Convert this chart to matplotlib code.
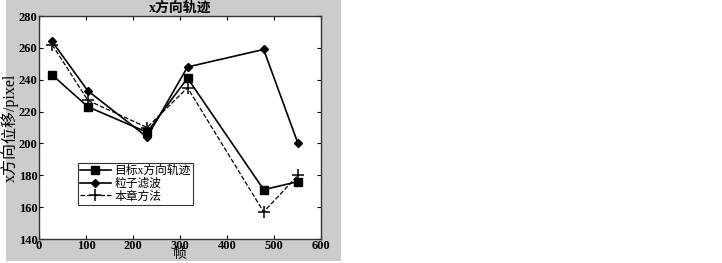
import matplotlib
matplotlib.use("Agg")
import matplotlib.pyplot as plt
from matplotlib.patches import Rectangle

plt.rcParams["font.family"] = ["Liberation Serif", "Noto Sans CJK SC"]

frames = [28, 104, 230, 316, 478, 551]
target_x = [243, 223, 207, 241, 171, 176]
particle_x = [264, 233, 204, 248, 259, 200]
ours_x = [262, 227, 210, 235, 157, 180]

labels = ["目标x方向轨迹", "粒子滤波", "本章方法"]

fig = plt.figure(figsize=(7.22, 2.63), dpi=100)
fig.patch.set_facecolor("white")
# gray panel behind the plot (MATLAB-style figure background)
fig.patches.append(Rectangle((6 / 722, 2 / 263), 335 / 722, 261 / 263,
                             transform=fig.transFigure, facecolor="#cccccc",
                             edgecolor="none", zorder=-10))

ax = fig.add_axes([39 / 722, 24 / 263, 282 / 722, 223 / 263])
ax.set_zorder(5)
ax.set_facecolor("white")

ax.plot(frames, target_x, "k-", marker="s", markersize=5.5, lw=1.2, label=labels[0])
ax.plot(frames, particle_x, "k-", marker="D", markersize=4, lw=1.2, label=labels[1])
ax.plot(frames, ours_x, "k--", marker="+", markersize=8, mew=1.1, lw=0.9, label=labels[2])

ax.set_xlim(0, 600)
ax.set_ylim(140, 280)
ax.set_xticks(range(0, 601, 100))
ax.set_yticks(range(140, 281, 20))
ax.tick_params(direction="in", top=True, right=True, length=3, labelsize=9, pad=1)
for lbl in ax.get_xticklabels() + ax.get_yticklabels():
    lbl.set_fontweight("bold")
for s in ax.spines.values():
    s.set_linewidth(1.0)
    s.set_color("#333333")

ax.set_title("x方向轨迹", fontsize=10, pad=3, fontweight="bold")
ax.set_xlabel("帧", fontsize=10, labelpad=-3)
ax.set_ylabel("x方向位移/pixel", fontsize=11.5, labelpad=0)

leg = ax.legend(loc="upper left", bbox_to_anchor=(0.137, 0.341), fontsize=8.5,
                frameon=True, fancybox=False, edgecolor="black",
                borderpad=0.2, labelspacing=0.05, handlelength=2.6,
                handletextpad=0.3, borderaxespad=0)
leg.get_frame().set_linewidth(0.8)

fig.savefig("out.png", dpi=100)
